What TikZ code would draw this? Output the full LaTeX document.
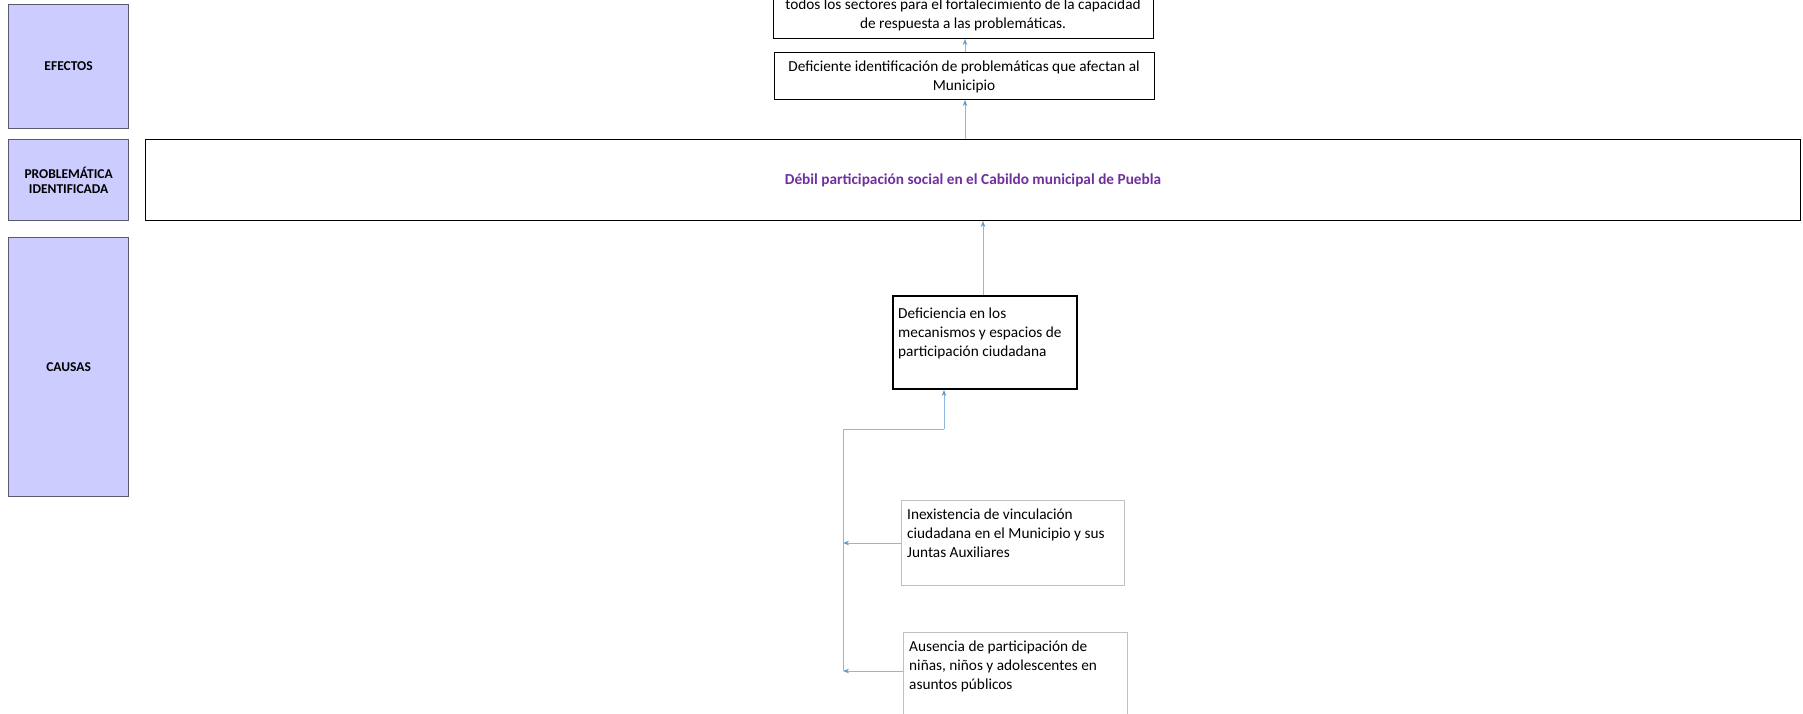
\documentclass[tikz,border=0pt]{standalone}
\usepackage{fontspec}
\setmainfont{Carlito}
\usetikzlibrary{arrows.meta}
\definecolor{lav}{HTML}{CCCCFF}
\definecolor{lavline}{HTML}{5A5A6E}
\definecolor{conn}{HTML}{8DB8E2}
\definecolor{tipc}{HTML}{5B9BD5}
\definecolor{purp}{HTML}{7030A0}
\definecolor{lgray}{HTML}{BFBFBF}
\tikzset{
  sidebox/.style={draw=lavline, line width=1.2pt, fill=lav, inner sep=0pt, anchor=north west,
    font=\fontsize{13.5}{15}\selectfont\bfseries, align=center},
  effbox/.style={draw=black, line width=1pt, inner sep=0pt, anchor=north west},
  efftext/.style={inner sep=0pt, align=center, font=\fontsize{15.3}{19}\selectfont},
  causebox/.style={draw=lgray, line width=1pt, inner sep=0pt, anchor=north west},
  boxtext/.style={anchor=north west, inner sep=0pt, align=left,
    font=\fontsize{15.3}{19}\selectfont},
  conline/.style={draw=conn, line width=0.9pt},
  arr/.style={conline, -{Stealth[length=6pt,width=4.5pt,fill=tipc,color=tipc]}},
}
\begin{document}
\begin{tikzpicture}[x=1pt,y=-1pt]
\useasboundingbox (0,0) rectangle (1803,714);
\clip (0,0) rectangle (1803,714);
\fill[white] (0,0) rectangle (1803,714);
% side labels
\node[sidebox, minimum width=120pt, minimum height=124pt] (efe) at (8,4) {EFECTOS};
\node[sidebox, minimum width=120pt, minimum height=81pt] (pro) at (8,139) {PROBLEMÁTICA\\IDENTIFICADA};
\node[sidebox, minimum width=120pt, minimum height=259pt] (cau) at (8,237) {CAUSAS};
% effects
\node[effbox, minimum width=380pt, minimum height=70pt] (e2) at (773,-32) {};
\node[efftext, anchor=center] (e2t) at (963,15) {todos los sectores para el fortalecimiento de la capacidad\\de respuesta a las problemáticas.};
\node[effbox, minimum width=380pt, minimum height=47pt] (e1) at (774,52) {};
\node[efftext, anchor=center] (e1t) at (964,77) {Deficiente identificación de problemáticas que afectan al\\Municipio};
% problem
\node[draw=black, line width=1pt, inner sep=0pt, anchor=north west, minimum width=1655pt, minimum height=81pt,
  text=purp, font=\fontsize{15.3}{19}\selectfont\bfseries] (prob) at (145,139) {Débil participación social en el Cabildo municipal de Puebla};
% causes
\node[draw=black, line width=2pt, inner sep=0pt, anchor=north west, minimum width=184pt, minimum height=93pt] (c0) at (892,295) {};
\node[boxtext] (c0t) at (898,307.5) {Deficiencia en los\\mecanismos y espacios de\\participación ciudadana};
\node[causebox, minimum width=223pt, minimum height=85pt] (c1) at (901,500) {};
\node[boxtext] (c1t) at (907,509) {Inexistencia de vinculación\\ciudadana en el Municipio y sus\\Juntas Auxiliares};
\node[causebox, minimum width=224pt, minimum height=100pt] (c2) at (903,632) {};
\node[boxtext] (c2t) at (909,641) {Ausencia de participación de\\niñas, niños y adolescentes en\\asuntos públicos};
% connectors
\draw[arr] (e1.north -| 965,0) -- (e2.south -| 965,0);
\draw[arr] (prob.north -| 965,0) -- (e1.south -| 965,0);
\draw[arr] (c0.north -| 983,0) -- (prob.south -| 983,0);
\coordinate (j1) at (843,543);
\coordinate (j2) at (843,671);
\coordinate (jt) at (843,429);
\coordinate (jr) at (944,429);
\draw[arr] (c1.west |- j1) -- (j1);
\draw[arr] (c2.west |- j2) -- (j2);
\draw[conline] (j2) -- (jt) -- (jr);
\draw[arr] (jr) -- (jr |- c0.south);
\end{tikzpicture}
\end{document}
